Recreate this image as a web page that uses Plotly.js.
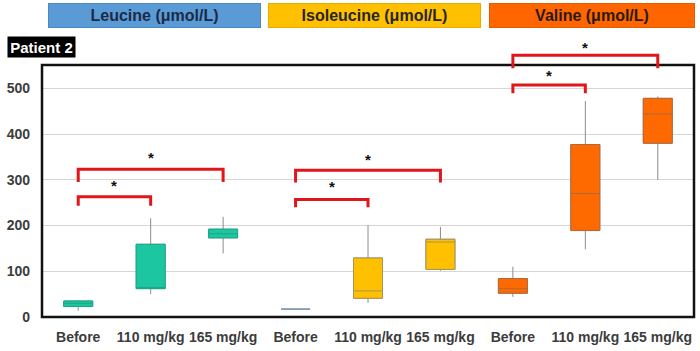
<!DOCTYPE html>
<html><head><meta charset="utf-8">
<script src="https://cdn.plot.ly/plotly-3.0.1.min.js"></script>
<style>html,body{margin:0;padding:0;background:#fff}#chart{width:700px;height:351px}</style>
</head><body><div id="chart"></div>
<script>
// ---- data ----
const groups = ["Leucine (μmol/L)", "Isoleucine (μmol/L)", "Valine (μmol/L)"];
const doses = ["Before", "110 mg/kg", "165 mg/kg"];
const patientLabel = "Patient 2";
// boxes in order: Leucine (Before, 110, 165), Isoleucine (...), Valine (...)
const lowerWhisker = [14, 50, 139, 17, 31, 101, 44, 148, 300];
const q1Vals       = [23, 62, 173, 17, 41, 104, 52, 189, 380];
const medianVals   = [30, 64, 182, 17, 57, 164, 62, 270, 444];
const q3Vals       = [35, 159, 192, 17, 129, 170, 84, 377, 478];
const upperWhisker = [37, 216, 219, 17, 201, 197, 110, 472, 482];
// significance brackets
const bracketGroup  = [0, 0, 1, 1, 2, 2];
const bracketFrom   = [0, 0, 0, 0, 0, 0];
const bracketTo     = [1, 2, 1, 2, 1, 2];
const bracketTop    = [263, 323, 257, 321, 507, 572];
const bracketLegEnd = [243, 295, 240, 294, 489, 544];
const starValue     = [288, 349, 285, 345, 529, 590];
const yTicks = [0, 100, 200, 300, 400, 500];
const frameTop = 551;

// ---- style ----
const FONT = "'Liberation Sans', Arial, sans-serif";
const fills = ["#1cc6a0", "#ffc000", "#ff6a00"];
const outlines = ["#14a987", "#a8945a", "#b0683c"];
const headerBg = ["#5b9bd5", "#ffc000", "#ff6600"];
const headerBorder = ["#4a8ac4", "#e6ad00", "#e65c00"];
const headerText = ["#1c2a48", "#262626", "#2a1a0c"];
const M = {l: 42, r: 6, t: 43, b: 34};
const W = 700, H = 351;
const YR = [0, 599];
const pw = W - M.l - M.r, ph = H - M.t - M.b;
const px2x = p => (p - M.l) / pw;
const px2y = p => (H - M.b - p) / ph;
const v2y = v => (v - YR[0]) / (YR[1] - YR[0]);

const nD = doses.length;
const traces = [];
const tickvals = [], ticktext = [];
groups.forEach((g, gi) => {
  doses.forEach((d, di) => {
    const i = gi * nD + di;
    tickvals.push(i); ticktext.push(d);
    const flat = q1Vals[i] === q3Vals[i];
    traces.push({
      type: 'box', orientation: 'v', x: [i],
      q1: [q1Vals[i]], median: [medianVals[i]], q3: [q3Vals[i]],
      lowerfence: [lowerWhisker[i]], upperfence: [upperWhisker[i]],
      width: 0.4, whiskerwidth: 0, boxpoints: false,
      fillcolor: fills[gi], line: {color: '#8c8c8c', width: 1},
      hoverinfo: 'skip', showlegend: false
    });
    traces.push({
      type: 'box', orientation: 'v', x: [i],
      q1: [q1Vals[i]], median: [medianVals[i]], q3: [q3Vals[i]],
      lowerfence: [q1Vals[i]], upperfence: [q3Vals[i]],
      width: 0.4, whiskerwidth: 0, boxpoints: false,
      fillcolor: fills[gi], line: {color: flat ? '#7f9dbb' : outlines[gi], width: flat ? 1.5 : 1},
      hoverinfo: 'skip', showlegend: false
    });
  });
});

const shapes = [{
  type: 'rect', xref: 'paper', yref: 'paper', x0: 0, x1: 1, y0: 0, y1: v2y(frameTop),
  line: {color: '#111', width: 2.5}, fillcolor: 'rgba(0,0,0,0)', layer: 'above'
}];
const annotations = [];
bracketGroup.forEach((g, k) => {
  const xa = g * nD + bracketFrom[k], xb = g * nD + bracketTo[k];
  shapes.push({
    type: 'path', xref: 'x', yref: 'y',
    path: `M ${xa},${bracketLegEnd[k]} L ${xa},${bracketTop[k]} L ${xb},${bracketTop[k]} L ${xb},${bracketLegEnd[k]}`,
    line: {color: '#e0161b', width: 3}, layer: 'above'
  });
  annotations.push({
    xref: 'x', yref: 'y', x: (xa + xb) / 2, y: starValue[k], text: '*', showarrow: false,
    font: {family: FONT, size: 15, color: '#111', weight: 'bold'}, yanchor: 'middle'
  });
});
const headerLeft = [48, 268, 489], headerRight = [261, 481, 695];
groups.forEach((g, gi) => {
  annotations.push({
    xref: 'paper', yref: 'paper', xanchor: 'center', yanchor: 'middle',
    x: px2x((headerLeft[gi] + headerRight[gi]) / 2), y: px2y(15.8),
    width: headerRight[gi] - headerLeft[gi] - 2, height: 23, borderpad: 0,
    bgcolor: headerBg[gi], bordercolor: headerBorder[gi], borderwidth: 1,
    text: g, showarrow: false,
    font: {family: FONT, size: 16, color: headerText[gi], weight: 'bold'}
  });
});
annotations.push({
  xref: 'paper', yref: 'paper', xanchor: 'center', yanchor: 'middle',
  x: px2x(41.5), y: px2y(46.7), width: 67, height: 20, borderpad: 0,
  bgcolor: '#000', text: patientLabel, showarrow: false,
  font: {family: FONT, size: 15, color: '#fff', weight: 'bold'}
});

const layout = {
  width: W, height: H, margin: M, paper_bgcolor: '#fff', plot_bgcolor: '#fff',
  boxmode: 'overlay', showlegend: false,
  font: {family: FONT, size: 14, color: '#3c3c3c', weight: 'bold'},
  xaxis: {range: [-0.5, tickvals.length - 0.5], tickvals: tickvals, ticktext: ticktext,
          tickangle: 0, showgrid: false, zeroline: false, showline: false, ticks: '', fixedrange: true,
          ticklabelstandoff: 10,
          tickfont: {family: FONT, size: 14, color: '#3c3c3c', weight: 'bold'}},
  yaxis: {range: YR, tickvals: yTicks, showgrid: true, gridcolor: '#d6d6d6', gridwidth: 1,
          zeroline: false, showline: false, ticks: '', ticklabelstandoff: 11,
          tickfont: {family: FONT, size: 14, color: '#3c3c3c', weight: 'bold'}},
  shapes: shapes, annotations: annotations
};
Plotly.newPlot('chart', traces, layout, {displayModeBar: false, staticPlot: true});
</script></body></html>
